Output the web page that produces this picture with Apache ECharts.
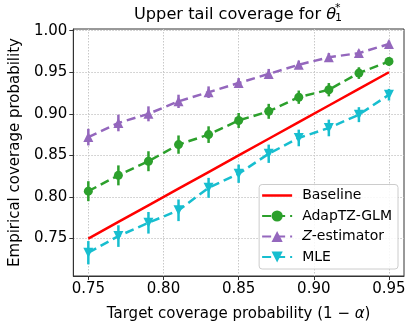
<!DOCTYPE html>
<html>
<head>
<meta charset="utf-8">
<script src="https://cdn.jsdelivr.net/npm/echarts@6/dist/echarts.min.js"></script>
<style>html,body{margin:0;padding:0;background:#fff}#c{width:415px;height:327px}</style>
</head>
<body>
<div id="c"></div>
<script>
var targets = [0.75, 0.77, 0.79, 0.81, 0.83, 0.85, 0.87, 0.89, 0.91, 0.93, 0.95];
var baseline = [0.75, 0.77, 0.79, 0.81, 0.83, 0.85, 0.87, 0.89, 0.91, 0.93, 0.95];
var adaptz = [0.807, 0.826, 0.843, 0.863, 0.875, 0.892, 0.903, 0.920, 0.929, 0.949, 0.963];
var adaptzErr = [0.012, 0.012, 0.012, 0.011, 0.010, 0.009, 0.009, 0.008, 0.008, 0.007, 0.005];
var zest = [0.872, 0.889, 0.900, 0.915, 0.926, 0.937, 0.948, 0.959, 0.968, 0.973, 0.984];
var zestErr = [0.010, 0.010, 0.009, 0.008, 0.007, 0.006, 0.006, 0.005, 0.005, 0.004, 0.004];
var mle = [0.733, 0.753, 0.769, 0.784, 0.811, 0.828, 0.852, 0.871, 0.883, 0.899, 0.923];
var mleErr = [0.014, 0.013, 0.013, 0.013, 0.012, 0.011, 0.011, 0.010, 0.010, 0.009, 0.007];
var xTicks = [0.75, 0.80, 0.85, 0.90, 0.95];
var yTicks = [0.75, 0.80, 0.85, 0.90, 0.95, 1.00];

var FONT = 'DejaVu Sans';
var C_RED = '#ff0000', C_GREEN = '#2ca02c', C_PURPLE = '#9467bd', C_CYAN = '#17becf';

function pts(vals) { return targets.map(function (x, i) { return [x, vals[i]]; }); }
function errData(vals, errs) { return targets.map(function (x, i) { return [x, vals[i] - errs[i], vals[i] + errs[i]]; }); }
function errSeries(vals, errs, color, z) {
  return {
    type: 'custom', z: z, silent: true, legendHoverLink: false,
    data: errData(vals, errs),
    renderItem: function (params, api) {
      var p1 = api.coord([api.value(0), api.value(1)]);
      var p2 = api.coord([api.value(0), api.value(2)]);
      return { type: 'line', shape: { x1: p1[0], y1: p1[1], x2: p2[0], y2: p2[1] },
        style: { stroke: color, lineWidth: 2.5 } };
    }
  };
}
function lineSeries(name, vals, color, symbol, size, rotate, z) {
  return {
    name: name, type: 'line', z: z, data: pts(vals),
    symbol: symbol, symbolSize: size, symbolRotate: rotate || 0, showAllSymbol: true,
    lineStyle: { color: color, width: 2.5, type: [9, 5] },
    itemStyle: { color: color, borderWidth: 0 },
    emphasis: { disabled: true }, animation: false
  };
}

var chart = echarts.init(document.getElementById('c'), null, { renderer: 'canvas' });
chart.setOption({
  animation: false,
  textStyle: { fontFamily: FONT },
  title: {
    text: 'Upper tail coverage for {i|θ}',
    left: 129, top: 2,
    textStyle: { fontFamily: FONT, fontSize: 16.2, fontWeight: 'normal', color: '#000',
      rich: { i: { fontFamily: FONT, fontSize: 16.2, fontStyle: 'italic', color: '#000' } } }
  },
  graphic: [
    { type: 'text', left: 335, top: 3, style: { text: '*', font: '11px "DejaVu Sans"', fill: '#000' } },
    { type: 'text', left: 335, top: 13, style: { text: '1', font: '11px "DejaVu Sans"', fill: '#000' } }
  ],
  grid: { left: 71, right: 11, top: 29, bottom: 51, show: true, borderColor: '#333', borderWidth: 1, containLabel: false },
  legend: {
    orient: 'vertical', right: 17, bottom: 58,
    data: [{ name: 'Baseline', icon: 'path://M0,0 L30,0 L30,2.5 L0,2.5 Z' }, 'AdapTZ-GLM', 'Z-estimator', 'MLE'],
    backgroundColor: 'rgba(255,255,255,0.85)', borderColor: '#cccccc', borderWidth: 1, borderRadius: 3,
    padding: [4, 6, 5, 2], itemWidth: 30, itemHeight: 14, itemGap: 6.5,
    formatter: function (n) { return n === 'Z-estimator' ? '{i|Z}-estimator' : n; },
    textStyle: { fontFamily: FONT, fontSize: 14, color: '#000', padding: [0, 0, 0, 5],
      rich: { i: { fontFamily: FONT, fontSize: 14, fontStyle: 'italic', color: '#000' } } }
  },
  xAxis: {
    type: 'value', min: 0.74, max: 0.96,
    name: 'Target coverage probability (1 − {i|α})', nameLocation: 'middle', nameGap: 31,
    nameTextStyle: { fontFamily: FONT, fontSize: 15, color: '#000', verticalAlign: 'top',
      rich: { i: { fontFamily: FONT, fontSize: 15, fontStyle: 'italic', color: '#000' } } },
    axisLine: { show: true, onZero: false, lineStyle: { color: '#333', width: 1 } },
    axisTick: { show: true, length: 4, customValues: xTicks, lineStyle: { color: '#333' } },
    axisLabel: { customValues: xTicks, fontFamily: FONT, fontSize: 15, color: '#000', margin: 6,
      formatter: function (v) { return v.toFixed(2); } },
    splitLine: { show: true, lineStyle: { color: '#c8c8c8', type: [1.5, 1.5], width: 1 } }
  },
  yAxis: {
    type: 'value', min: 0.705, max: 1.002,
    name: 'Empirical coverage probability', nameLocation: 'middle', nameGap: 47, nameRotate: 90,
    nameTextStyle: { fontFamily: FONT, fontSize: 15, color: '#000' },
    axisLine: { show: true, onZero: false, lineStyle: { color: '#333', width: 1 } },
    axisTick: { show: true, length: 4, customValues: yTicks, lineStyle: { color: '#333' } },
    axisLabel: { customValues: yTicks, fontFamily: FONT, fontSize: 15, color: '#000', margin: 6,
      formatter: function (v) { return v.toFixed(2); } },
    splitLine: { show: true, lineStyle: { color: '#c8c8c8', type: [1.5, 1.5], width: 1 } }
  },
  series: [
    { name: 'Baseline', type: 'line', z: 2, data: pts(baseline), symbol: 'none',
      lineStyle: { color: C_RED, width: 2.5 }, itemStyle: { color: C_RED }, emphasis: { disabled: true } },
    errSeries(adaptz, adaptzErr, C_GREEN, 3),
    lineSeries('AdapTZ-GLM', adaptz, C_GREEN, 'circle', 9, 0, 4),
    errSeries(zest, zestErr, C_PURPLE, 5),
    lineSeries('Z-estimator', zest, C_PURPLE, 'triangle', 10, 0, 6),
    errSeries(mle, mleErr, C_CYAN, 7),
    lineSeries('MLE', mle, C_CYAN, 'triangle', 10, 180, 8)
  ]
});
</script>
</body>
</html>
